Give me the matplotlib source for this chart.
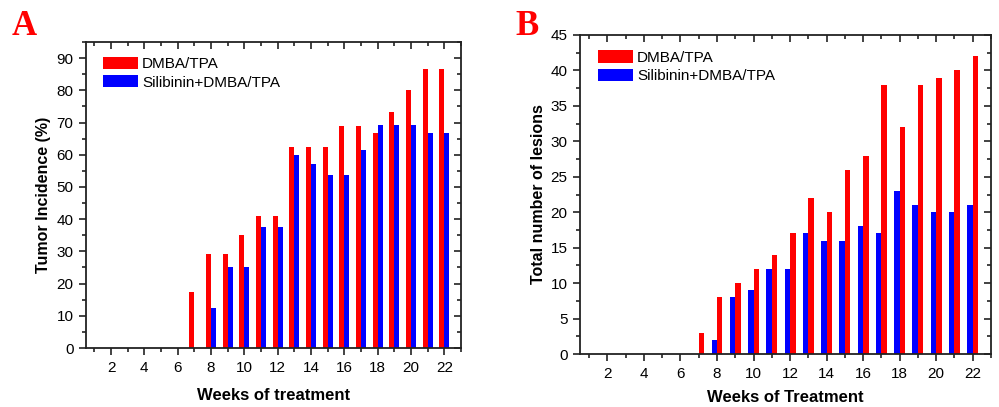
import matplotlib.pyplot as plt
import numpy as np
from matplotlib.ticker import MultipleLocator

plt.rcParams['font.family'] = ['Liberation Sans', 'DejaVu Sans']

weeks = np.arange(7, 23)
# panel A: tumor incidence (%)
inc_dmba = [17.5, 29.2, 29.2, 35.0, 41.0, 41.0, 62.5, 62.5, 62.5, 68.8, 68.8, 66.7, 73.3, 80.0, 86.7, 86.7]
inc_sil = [0, 12.5, 25.0, 25.0, 37.5, 37.5, 60.0, 57.1, 53.8, 53.8, 61.5, 69.2, 69.2, 69.2, 66.7, 66.7]
# panel B: total number of lesions
les_dmba = [3, 8, 10, 12, 14, 17, 22, 20, 26, 28, 38, 32, 38, 39, 40, 42]
les_sil = [0, 2, 8, 9, 12, 12, 17, 16, 16, 18, 17, 23, 21, 20, 20, 21]

labels = ["DMBA/TPA", "Silibinin+DMBA/TPA"]
red = "#ff0000"
blue = "#0000ff"
bw = 0.3

fig = plt.figure(figsize=(9.99, 4.07), dpi=100)
axA = fig.add_axes([86/999, 1-348/407, (461-86)/999, (348-42)/407])
axB = fig.add_axes([580/999, 1-354/407, (991-580)/999, (354-35)/407])

axA.bar(weeks - bw, inc_dmba, width=bw, align='edge', color=red, label=labels[0])
axA.bar(weeks, inc_sil, width=bw, align='edge', color=blue, label=labels[1])
axB.bar(weeks, les_dmba, width=bw, align='edge', color=red, label=labels[0])
axB.bar(weeks - bw, les_sil, width=bw, align='edge', color=blue, label=labels[1])

axA.set_ylim(0, 95)
axA.yaxis.set_major_locator(MultipleLocator(10))
axA.yaxis.set_minor_locator(MultipleLocator(5))
axB.set_ylim(0, 45)
axB.yaxis.set_major_locator(MultipleLocator(5))
axB.yaxis.set_minor_locator(MultipleLocator(2.5))

for ax in (axA, axB):
    ax.set_xlim(0.5, 23)
    ax.xaxis.set_major_locator(MultipleLocator(2))
    ax.xaxis.set_minor_locator(MultipleLocator(1))
    for s in ax.spines.values():
        s.set_linewidth(1.3)
        s.set_color("#222222")
    ax.tick_params(which='both', direction='out', top=False, right=False,
                   labelsize=11, width=1.2, color="#222222")
    ax.tick_params(which='major', length=5, pad=4)
    ax.tick_params(which='minor', length=3)
    # inward mirror ticks on top and right
    sx = ax.secondary_xaxis('top')
    sx.xaxis.set_major_locator(MultipleLocator(2))
    sx.xaxis.set_minor_locator(MultipleLocator(1))
    sx.tick_params(which='both', direction='in', labeltop=False, width=1.2, color="#222222")
    sx.tick_params(which='major', length=5)
    sx.tick_params(which='minor', length=3)
    sy = ax.secondary_yaxis('right')
    sy.yaxis.set_major_locator(ax.yaxis.get_major_locator())
    sy.yaxis.set_minor_locator(ax.yaxis.get_minor_locator())
    sy.tick_params(which='both', direction='in', labelright=False, width=1.2, color="#222222")
    sy.tick_params(which='major', length=5)
    sy.tick_params(which='minor', length=3)
    for s in sx.spines.values():
        s.set_visible(False)
    for s in sy.spines.values():
        s.set_visible(False)
    ax.legend(loc='upper left', frameon=False, fontsize=11, handlelength=2.3,
              handleheight=0.85, handletextpad=0.25, labelspacing=0.25,
              borderaxespad=0.0, bbox_to_anchor=(0.029, 0.971))

axA.set_xlabel("Weeks of treatment", fontsize=12, fontweight='bold', labelpad=10)
axA.set_ylabel("Tumor Incidence (%)", fontsize=11.5, fontweight='bold', labelpad=4)
axB.set_xlabel("Weeks of Treatment", fontsize=12, fontweight='bold', labelpad=7)
axB.set_ylabel("Total number of lesions", fontsize=11.5, fontweight='bold', labelpad=3)

fig.text(12/999, 1-35/407, "A", color=red, fontsize=25, fontweight='bold',
         family=['Liberation Serif'], va='baseline')
fig.text(515/999, 1-35/407, "B", color=red, fontsize=25, fontweight='bold',
         family=['Liberation Serif'], va='baseline')

fig.savefig("out.png", dpi=100)
